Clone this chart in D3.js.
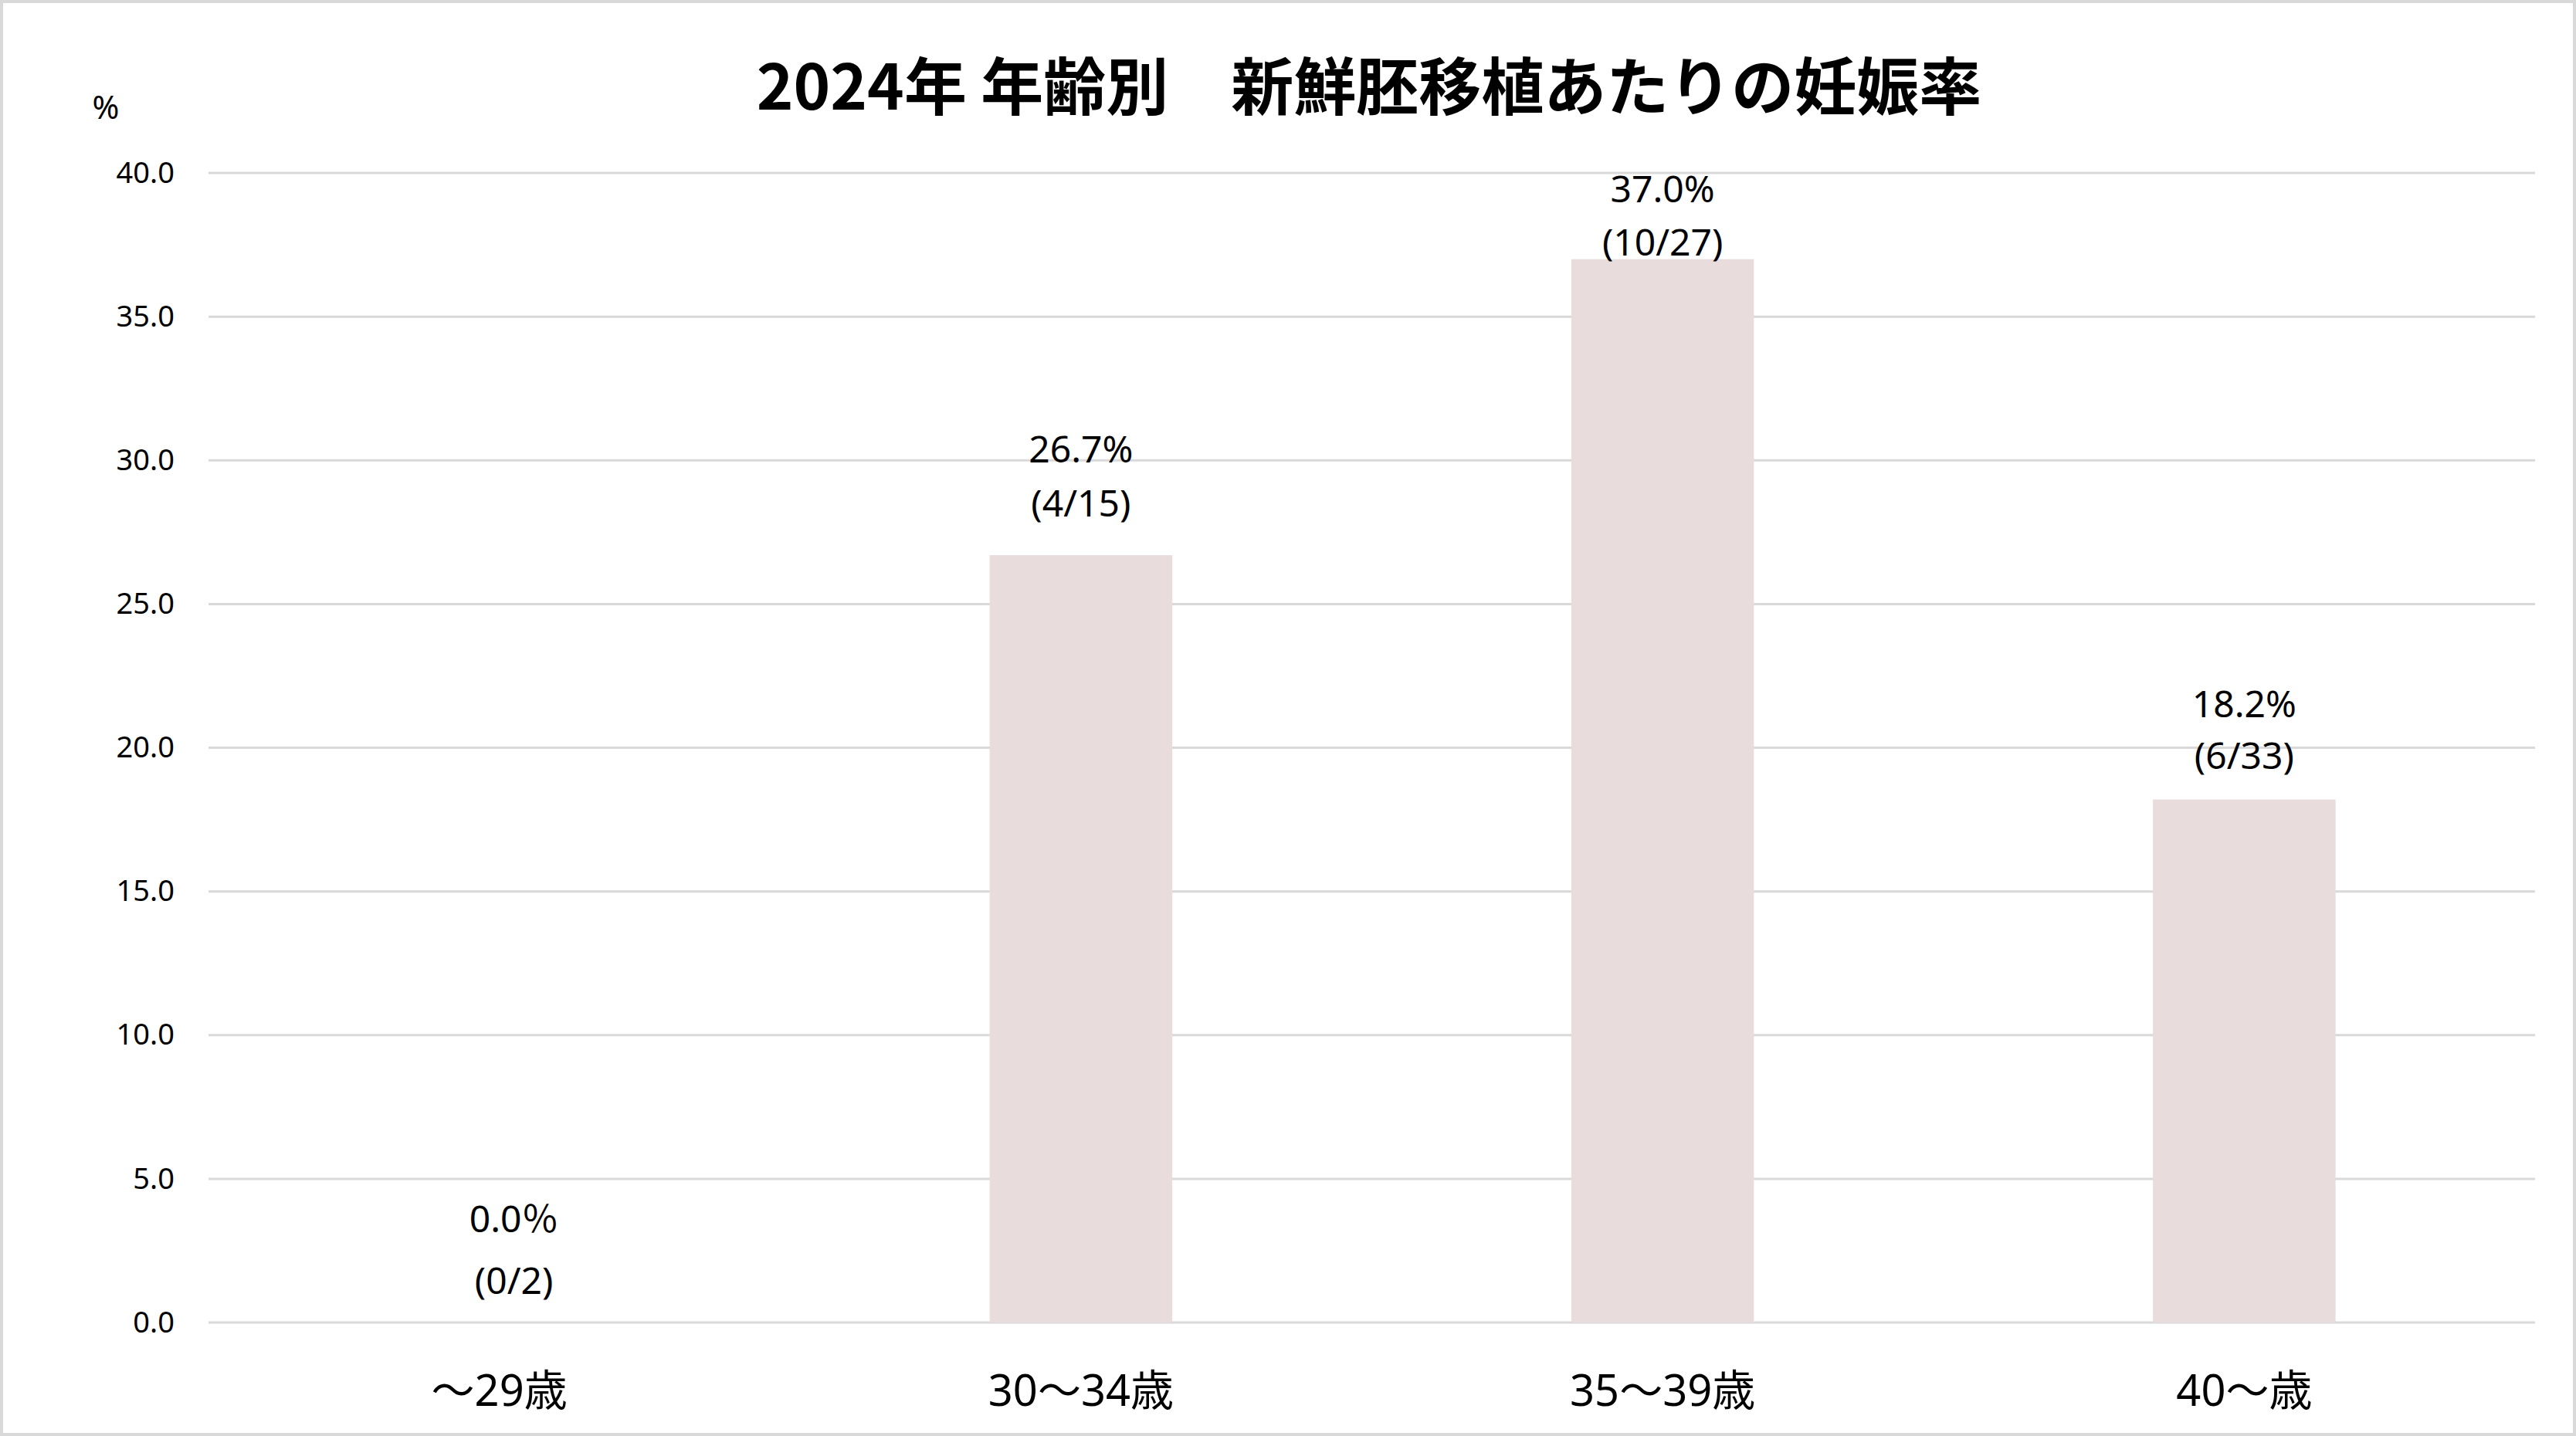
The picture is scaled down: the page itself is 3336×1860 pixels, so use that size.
<!DOCTYPE html>
<html>
<head>
<meta charset="utf-8">
<script src="https://cdn.jsdelivr.net/npm/d3@7"></script>
<style>
html,body{margin:0;padding:0;background:#fff;}
svg{display:block;}
text{font-family:"Noto Sans","Noto Sans CJK JP",sans-serif;fill:#000;}
</style>
</head>
<body>
<svg id="chart" width="3336" height="1860"></svg>
<script>
// ---- data ----
const categories = ["～29歳", "30～34歳", "35～39歳", "40～歳"];
const rates = [0.0, 26.7, 37.0, 18.2];
const rateLabels = ["0.0％", "26.7%", "37.0%", "18.2%"];
const countLabels = ["(0/2)", "(4/15)", "(10/27)", "(6/33)"];
const yTicks = [0, 5, 10, 15, 20, 25, 30, 35, 40];
const titleText = "2024年 年齢別　新鮮胚移植あたりの妊娠率";
const unitText = "%";

// ---- layout (not data) ----
const W = 3336, H = 1860;
const plot = {left: 270, right: 3283, top: 224, bottom: 1713};
const labelNudge = [
  {dx: 19, dy1: -136, dy2: -56},
  {dx: 0, dy1: -139, dy2: -69},
  {dx: 0, dy1: -92, dy2: -23},
  {dx: 0, dy1: -125, dy2: -58}
];

const svg = d3.select("#chart");

svg.append("rect").attr("x", 2).attr("y", 2).attr("width", W - 4).attr("height", H - 4)
  .attr("fill", "#fff").attr("stroke", "#D9D9D9").attr("stroke-width", 4);

const x = d3.scaleBand().domain(categories).range([plot.left, plot.right])
  .paddingInner(0.686).paddingOuter(0.343);
const y = d3.scaleLinear().domain([0, 40]).range([plot.bottom, plot.top]);

// gridlines
svg.append("g").selectAll("line").data(yTicks).join("line")
  .attr("x1", plot.left).attr("x2", plot.right)
  .attr("y1", d => y(d)).attr("y2", d => y(d))
  .attr("stroke", "#D9D9D9").attr("stroke-width", 3);

// y axis labels
const yAxis = d3.axisLeft(y).tickValues(yTicks).tickFormat(d3.format(".1f")).tickSize(0).tickPadding(44);
const gy = svg.append("g").attr("transform", `translate(${plot.left},0)`).call(yAxis);
gy.select(".domain").remove();
gy.selectAll("text").attr("font-size", 38).attr("fill", "#000")
  .style("font-family", "'Noto Sans',sans-serif");

// bars
svg.append("g").selectAll("rect").data(rates).join("rect")
  .attr("x", (d, i) => x(categories[i]))
  .attr("width", x.bandwidth())
  .attr("y", d => y(d))
  .attr("height", d => y(0) - y(d))
  .attr("fill", "#E8DCDD");

// x axis labels
const xAxis = d3.axisBottom(x).tickSize(0).tickPadding(68);
const gx = svg.append("g").attr("transform", `translate(0,${plot.bottom})`).call(xAxis);
gx.select(".domain").remove();
gx.selectAll("text").attr("font-size", 56).attr("fill", "#000")
  .style("font-family", "'Noto Sans','Noto Sans CJK JP',sans-serif");

// data labels
const lbl = svg.append("g");
rates.forEach((v, i) => {
  const cx = x(categories[i]) + x.bandwidth() / 2 + labelNudge[i].dx;
  lbl.append("text").attr("x", cx).attr("y", y(v) + labelNudge[i].dy1)
    .attr("text-anchor", "middle").attr("dominant-baseline", "central")
    .attr("font-size", 48).text(rateLabels[i]);
  lbl.append("text").attr("x", cx).attr("y", y(v) + labelNudge[i].dy2)
    .attr("text-anchor", "middle").attr("dominant-baseline", "central")
    .attr("font-size", 48).text(countLabels[i]);
});

// unit
svg.append("text").attr("x", 137).attr("y", 137)
  .attr("text-anchor", "middle").attr("dominant-baseline", "central")
  .attr("font-size", 42).text(unitText);

// title
svg.append("text").attr("x", 1773).attr("y", 106)
  .attr("text-anchor", "middle").attr("dominant-baseline", "central")
  .attr("font-size", 81).attr("font-weight", "bold")
  .style("font-family", "'Noto Sans CJK JP',sans-serif")
  .text(titleText);
</script>
</body>
</html>
